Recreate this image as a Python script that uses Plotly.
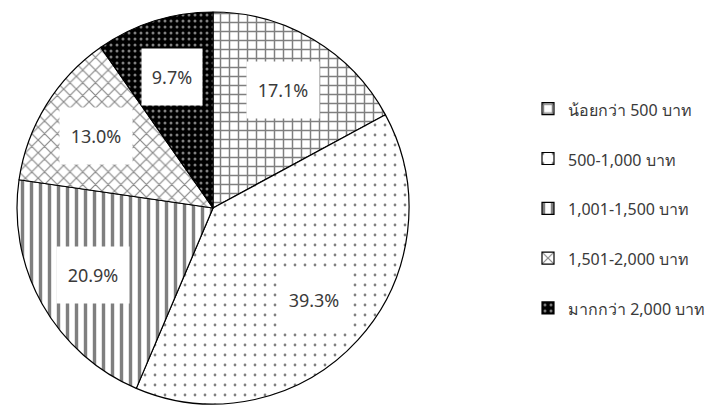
import math
import plotly.graph_objects as go

# ---- data ----
categories = ["น้อยกว่า 500 บาท", "500-1,000 บาท", "1,001-1,500 บาท",
              "1,501-2,000 บาท", "มากกว่า 2,000 บาท"]
values = [17.1, 39.3, 20.9, 13.0, 9.7]

# ---- styles ----
W, H = 722, 406
CX, CY, R = 213, 208, 196
FONT = "Noto Sans, Tahoma, sans-serif"
TXT = "#3a3a3a"

shapes = ["+", ".", "|", "x", "."]
fg = ["black", "black", "black", "#111111", "white"]
bg = ["white", "white", "white", "white", "black"]
psize = [9, 10, 9, 9, 6]
solid = [0.3, 0.06, 0.38, 0.25, 0.2]

legend_labels = [f"<span style='font-size:16px'>{c}</span><br> " for c in categories]

fig = go.Figure(go.Pie(
    labels=legend_labels,
    values=values,
    sort=False,
    direction="clockwise",
    rotation=0,
    textinfo="none",
    hoverinfo="percent",
    marker=dict(
        colors=bg,
        line=dict(color="black", width=1.2),
        pattern=dict(shape=shapes, fgcolor=fg, bgcolor=bg, size=psize,
                     solidity=solid, fillmode="overlay"),
    ),
    domain=dict(x=[(CX - R) / W, (CX + R) / W],
                y=[1 - (CY + R) / H, 1 - (CY - R) / H]),
))

# value labels in white boxes, placed at slice mid-angles
total = sum(values)
cum = 0.0
annotations = []
for v in values:
    mid = (cum + v / 2) / total * 2 * math.pi
    cum += v
    f = 0.7
    px = CX + f * R * math.sin(mid)
    py = CY - f * R * math.cos(mid)
    txt = f"{v:.1f}%"
    annotations.append(dict(
        x=px / W, y=1 - py / H, xref="paper", yref="paper",
        xanchor="center", yanchor="middle",
        text=txt, showarrow=False, bgcolor="white",
        width=12 * len(txt) + 12, height=56, borderpad=0,
        font=dict(family=FONT, size=18, color=TXT),
    ))

fig.update_layout(
    width=W, height=H,
    margin=dict(l=0, r=0, t=0, b=0),
    paper_bgcolor="white",
    plot_bgcolor="white",
    showlegend=True,
    annotations=annotations,
    legend=dict(
        x=528 / W, xanchor="left",
        y=1 - 220 / H, yanchor="middle",
        valign="top",
        font=dict(family=FONT, size=18, color=TXT),
        bgcolor="rgba(0,0,0,0)",
    ),
)

fig.write_html("out.html")
